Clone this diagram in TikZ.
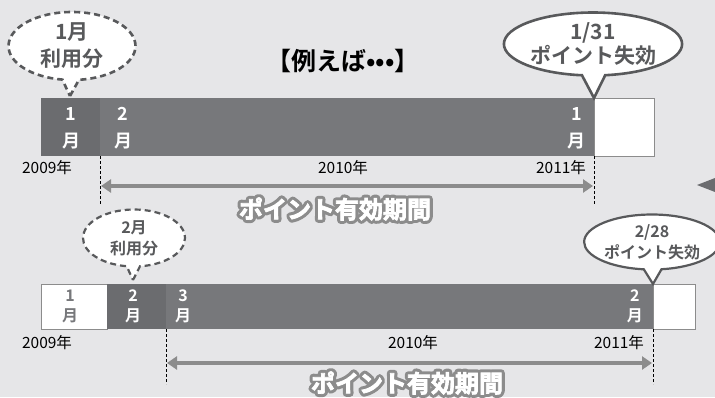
\documentclass[tikz,border=0pt]{standalone}
\usepackage{fontspec}
\setmainfont{Noto Sans CJK JP}[BoldFont={Noto Sans CJK JP Bold}]
\newfontfamily\facefont{Noto Sans CJK JP Bold}[FakeBold=3]
\usetikzlibrary{arrows.meta,shapes.callouts}
\definecolor{paper}{HTML}{E6E6E8}
\definecolor{cellused}{HTML}{6B6C6F}
\definecolor{cellvalid}{HTML}{77787B}
\definecolor{bubbleline}{HTML}{58595B}
\definecolor{spangray}{HTML}{8C8C8C}
\newcommand{\rimon}{\special{pdf:literal direct 1 j 1 J 7 w 2 Tr}}
\newcommand{\rimoff}{\special{pdf:literal direct 0 Tr}}
\tikzset{%
  tipA/.tip={Triangle[length=10pt,width=13pt]},
  cellbox/.style={anchor=north west,inner sep=0pt,outer sep=0pt,draw=none},
  blankbox/.style={cellbox,fill=white,draw=spangray,line width=0.8pt},
  monthbig/.style={text=white,align=center,inner sep=0pt,font=\bfseries\fontsize{18}{27}\selectfont},
  monthsmall/.style={text=white,align=center,inner sep=0pt,font=\bfseries\fontsize{16}{20}\selectfont},
  yeartxt/.style={font=\fontsize{15.5}{15.5}\selectfont,inner sep=0pt},
  guide/.style={densely dashed,line width=1pt,black},
  span/.style={spangray,line width=4pt,tipA-tipA,shorten <=1pt,shorten >=1pt},
  usedcall/.style={ellipse callout,fill=white,draw=bubbleline,line width=2.6pt,
    dash pattern=on 6pt off 4pt,inner sep=0pt,align=center,text=bubbleline},
  lapsecall/.style={ellipse callout,fill=white,draw=bubbleline,line width=2.6pt,
    inner sep=0pt,align=center,text=bubbleline},
  rimtxt/.style={font=\bfseries\fontsize{24}{24}\selectfont,text=spangray,inner sep=0pt},
  facetxt/.style={font=\facefont\fontsize{24}{24}\selectfont,text=white,inner sep=0pt}
}

\begin{document}
\begin{tikzpicture}[x=1pt,y=-1pt]
\useasboundingbox (0,0) rectangle (715,397);
\fill[paper] (0,0) rectangle (715,397);
% upper example
\node[cellbox,fill=cellused,minimum width=59pt,minimum height=58pt] (aJan) at (41,98) {};
\node[cellbox,fill=cellvalid,minimum width=494pt,minimum height=58pt] (aRun) at (aJan.north east) {};
\node[blankbox,minimum width=60pt,minimum height=58pt] (aEnd) at (aRun.north east) {};
\node[monthbig] (aJanTxt) at (71,128) {1\\月};
\node[monthbig] (aFebTxt) at (123,128) {2\\月};
\node[monthbig,anchor=east] (aLastTxt) at (586,128) {1\\月};
\node[yeartxt] (aY09) at (47,168) {2009年};
\node[yeartxt] (aY10) at (343,168) {2010年};
\node[yeartxt] (aY11) at (561,168) {2011年};
\coordinate (aGuideL) at (100,205);
\coordinate (aGuideR) at (594,205);
\draw[guide] (aRun.south west) -- (aGuideL);
\draw[guide] (aEnd.south west) -- (aGuideR);
\coordinate (aSpanL) at (100,186);
\coordinate (aSpanR) at (594,186);
\draw[span] (aSpanL) -- (aSpanR);
\node[rimtxt] (aRim) at (335,209) {\rimon ポイント有効期間\rimoff};
\node[facetxt] (aFace) at (aRim) {ポイント有効期間};
\node[usedcall,minimum width=127pt,minimum height=68pt,
  callout absolute pointer={(70,96)},font=\bfseries\fontsize{21}{27}\selectfont] (aUsed) at (72,46) {1月\\利用分};
\node[lapsecall,minimum width=170pt,minimum height=63pt,
  callout absolute pointer={(aEnd.north west)},font=\bfseries\fontsize{21}{24}\selectfont] (aLapse) at (593,44) {1/31\\ポイント失効};
\node[font=\bfseries\fontsize{25}{25}\selectfont,inner sep=0pt] (title) at (343,61) {【例えば•••】};
% lower example
\node[blankbox,minimum width=66pt,minimum height=45pt] (bJan) at (41,284) {};
\node[cellbox,fill=cellused,minimum width=59pt,minimum height=45pt] (bFeb) at (bJan.north east) {};
\node[cellbox,fill=cellvalid,minimum width=487pt,minimum height=45pt] (bRun) at (bFeb.north east) {};
\node[blankbox,minimum width=42pt,minimum height=45pt] (bEnd) at (bRun.north east) {};
\node[monthsmall,text=cellvalid] (bJanTxt) at (70,306) {1\\月};
\node[monthsmall] (bFebTxt) at (133,306) {2\\月};
\node[monthsmall] (bMarTxt) at (183,306) {3\\月};
\node[monthsmall,anchor=east] (bLastTxt) at (643,306) {2\\月};
\node[yeartxt] (bY09) at (47,343) {2009年};
\node[yeartxt] (bY10) at (413,343) {2010年};
\node[yeartxt] (bY11) at (619,343) {2011年};
\coordinate (bGuideL) at (166,384);
\coordinate (bGuideR) at (653,384);
\draw[guide] (bRun.south west) -- (bGuideL);
\draw[guide] (bEnd.south west) -- (bGuideR);
\coordinate (bSpanL) at (166,363);
\coordinate (bSpanR) at (653,363);
\draw[span] (bSpanL) -- (bSpanR);
\node[rimtxt] (bRim) at (407,383) {\rimon ポイント有効期間\rimoff};
\node[facetxt] (bFace) at (bRim) {ポイント有効期間};
\node[usedcall,minimum width=102pt,minimum height=57pt,line width=2.2pt,
  callout absolute pointer={(133,280)},font=\bfseries\fontsize{16}{21}\selectfont] (bUsed) at (134,238) {2月\\利用分};
\node[lapsecall,minimum width=124pt,minimum height=55pt,line width=2.2pt,
  callout absolute pointer={(bEnd.north west)},font=\bfseries\fontsize{16}{21}\selectfont] (bLapse) at (652,242) {2/28\\ポイント失効};
% cut-off mark at right edge
\fill[cellused] (697,185) -- (715,178) -- (715,192) -- cycle;
\end{tikzpicture}
\end{document}
